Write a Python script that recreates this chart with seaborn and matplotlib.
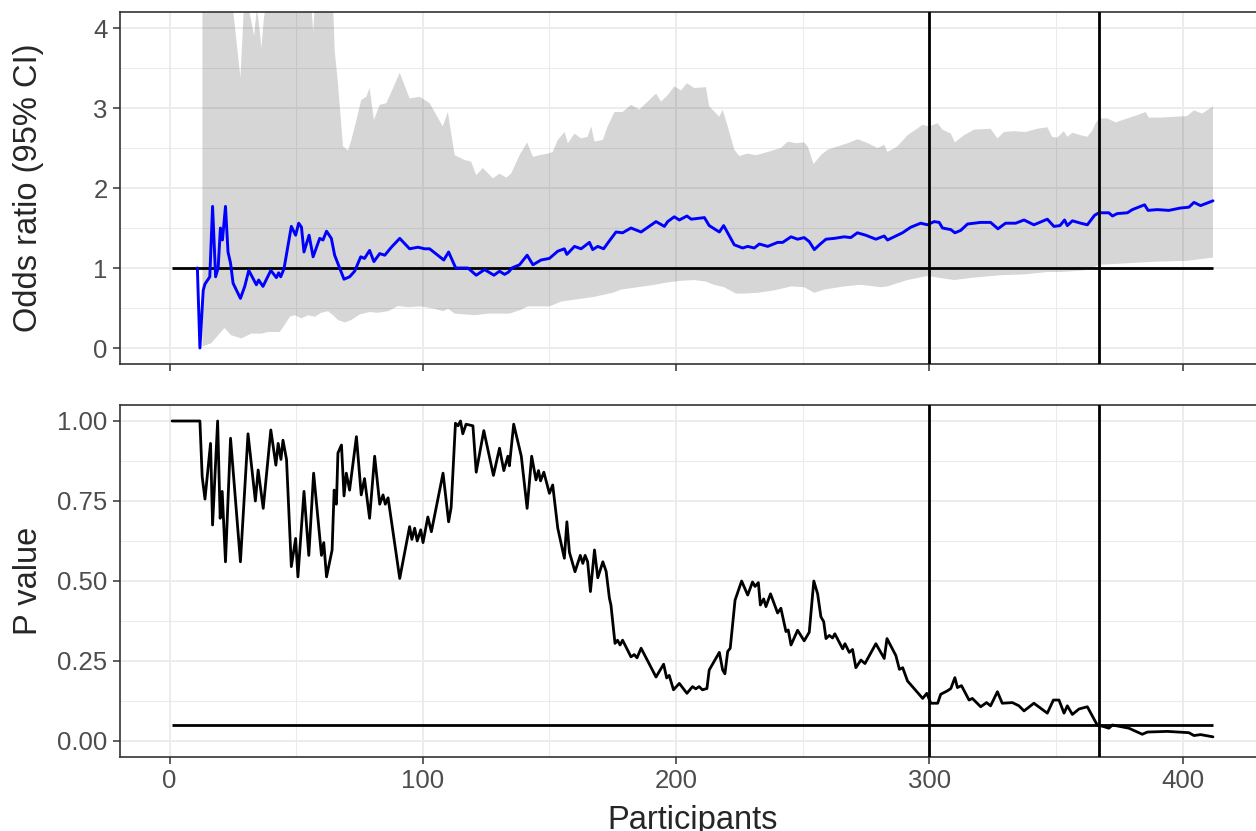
import numpy as np
import matplotlib
matplotlib.use("Agg")
import matplotlib.pyplot as plt
from matplotlib.ticker import MultipleLocator
import seaborn as sns

# odds ratio (blue line)
or_x = [11, 12, 13.3, 14, 15.9, 17, 18.2, 19.2, 20.1, 20.9, 22.1, 23.1, 24.1, 25.1, 28.0, 29.7,
        31.3, 34.3, 35.2, 36.9, 40.0, 42.2, 43.1, 43.9, 45.2, 48.1, 49.8, 51.0, 52.1, 53.1, 55.1,
        56.7, 59.3, 60.6, 62.0, 63.9, 65.2, 68.9, 71.1, 73.1, 75.5, 77.0, 79.0, 80.7, 83.0, 85.0,
        87.6, 90.9, 94.8, 98.1, 100.7, 102.7, 108.3, 110.2, 113.0, 117.8, 121.1, 124.4, 128.1,
        130.3, 132.3, 133.9, 135.2, 138.2, 141.2, 143.5, 146.7, 150.0, 153.3, 155.9, 156.9, 159.9,
        162.5, 165.8, 167.1, 169.1, 171.4, 173.7, 176.3, 178.9, 182.2, 186.2, 192.1, 195.4, 196.7,
        199.3, 201.3, 204.3, 206.0, 208.5, 211.2, 213.1, 217.1, 218.8, 223.0, 226.3, 228.3, 230.9,
        232.9, 236.2, 240.1, 242.1, 245.4, 248.0, 250.6, 252.6, 254.6, 256.6, 259.2, 262.4, 266.4,
        269.0, 271.6, 274.9, 278.9, 282.2, 283.5, 287.4, 289.4, 292.7, 296.6, 299.3, 301.9, 303.9,
        305.2, 308.5, 310.1, 312.4, 315.1, 320.3, 324.2, 327.1, 330.1, 334.1, 337.4, 341.3, 346.6,
        349.2, 351.6, 353.4, 354.5, 356.5, 359.8, 362.4, 365.3, 367.0, 370.9, 372.3, 374.2, 378.2,
        380.2, 385.0, 386.4, 390.0, 394.6, 399.2, 402.5, 404.5, 407.1, 412]
or_y = [1.0, 0.0, 0.72, 0.80, 0.89, 1.77, 0.89, 1.0, 1.50, 1.35, 1.77, 1.20, 1.06, 0.81, 0.62, 0.77,
        0.97, 0.79, 0.85, 0.77, 0.97, 0.88, 0.94, 0.89, 0.99, 1.52, 1.41, 1.56, 1.51, 1.20, 1.41,
        1.14, 1.37, 1.35, 1.46, 1.37, 1.16, 0.86, 0.89, 0.96, 1.14, 1.12, 1.22, 1.08, 1.18, 1.16,
        1.26, 1.37, 1.24, 1.26, 1.24, 1.24, 1.10, 1.20, 1.00, 1.00, 0.91, 0.98, 0.91,
        0.96, 0.92, 0.95, 1.00, 1.04, 1.16, 1.04, 1.10, 1.12, 1.21, 1.24, 1.17, 1.27,
        1.24, 1.32, 1.23, 1.27, 1.24, 1.34, 1.45, 1.44, 1.50, 1.45, 1.58, 1.52, 1.58,
        1.64, 1.60, 1.65, 1.61, 1.62, 1.63, 1.53, 1.45, 1.53, 1.29, 1.25, 1.27, 1.25,
        1.30, 1.27, 1.32, 1.32, 1.39, 1.36, 1.38, 1.33, 1.23, 1.29, 1.36, 1.37, 1.39,
        1.38, 1.44, 1.41, 1.36, 1.40, 1.35, 1.41, 1.44, 1.51, 1.56, 1.54, 1.58, 1.57,
        1.50, 1.48, 1.44, 1.47, 1.55, 1.57, 1.57, 1.49, 1.56, 1.56, 1.60, 1.54, 1.61,
        1.52, 1.53, 1.60, 1.53, 1.59, 1.56, 1.54, 1.66, 1.69, 1.69, 1.65, 1.68, 1.69,
        1.73, 1.79, 1.72, 1.73, 1.72, 1.75, 1.76, 1.82, 1.78, 1.84]

# upper 95% CI (goes off the top early on)
up_x = [13, 24.5, 28.0, 29.6, 30.9, 32.2, 33.4, 34.5, 35.5, 36.3, 37.2, 38.5, 40, 55, 56.0, 56.7,
        57.4, 58, 63, 64.6, 65.2, 66.5, 68.5, 70.5, 71.8, 73.8, 75.7, 77.7, 79.0, 80.7, 83.0, 85.6,
        87.6, 90.9, 94.8, 98.8, 102.7, 107.9, 109.9, 112.6, 116.5, 119.1, 121.1, 123.7, 127.7,
        130.3, 133.0, 134.9, 138.2, 141.2, 143.5, 146.1, 149.4, 151.3, 153.3, 156.0, 157.3, 159.9,
        162.5, 165.1, 166.5, 167.8, 171.1, 173.0, 175.7, 178.9, 182.2, 185.5, 188.8, 192.1, 194.1,
        196.7, 199.3, 202.0, 204.3, 207.2, 211.8, 213.1, 217.1, 218.4, 220.4, 223.0, 225.0, 228.3,
        231.6, 236.2, 241.4, 244.1, 247.4, 250.6, 252.0, 254.3, 257.2, 259.9, 263.8, 267.8, 271.7,
        275.7, 279.6, 282.2, 283.5, 287.4, 291.4, 294.7, 297.3, 300.0, 303.3, 305.2, 308.5, 310.1,
        313.7, 317.7, 324.2, 326.9, 329.5, 333.4, 338.0, 342.6, 346.6, 348.5, 350.5, 353.1, 354.5,
        356.5, 359.8, 362.4, 364.4, 365.7, 367.0, 370.3, 373.6, 378.2, 382.1, 385.4, 386.7, 391.3,
        396.6, 401.8, 404.5, 407.7, 412]
up_y = [6.0, 4.4, 3.38, 4.4, 4.3, 4.1, 3.9, 4.25, 4.0, 3.75, 4.1, 4.4, 6.0, 6.0, 4.3, 3.95,
        4.3, 6.0, 6.0, 4.3, 3.72, 3.31, 2.52, 2.47, 2.60, 2.85, 3.10, 3.14, 3.25, 2.85, 3.04, 3.06,
        3.20, 3.44, 3.12, 3.14, 3.06, 2.77, 2.95, 2.41, 2.35, 2.33, 2.16, 2.25, 2.12,
        2.18, 2.13, 2.18, 2.41, 2.57, 2.39, 2.41, 2.43, 2.45, 2.60, 2.70, 2.56, 2.68,
        2.62, 2.64, 2.77, 2.58, 2.60, 2.77, 2.95, 2.95, 3.04, 2.98, 3.08, 3.18, 3.08,
        3.16, 3.27, 3.22, 3.31, 3.25, 3.26, 3.02, 2.89, 2.98, 2.77, 2.48, 2.40, 2.43,
        2.41, 2.45, 2.50, 2.58, 2.56, 2.57, 2.52, 2.30, 2.41, 2.48, 2.52, 2.56, 2.61,
        2.56, 2.50, 2.54, 2.45, 2.52, 2.66, 2.73, 2.79, 2.77, 2.81, 2.73, 2.68, 2.57,
        2.66, 2.73, 2.74, 2.62, 2.70, 2.71, 2.70, 2.74, 2.76, 2.64, 2.63, 2.71, 2.64,
        2.69, 2.66, 2.64, 2.72, 2.81, 2.87, 2.87, 2.82, 2.87, 2.91, 2.95, 2.88, 2.88,
        2.89, 2.90, 2.97, 2.93, 3.02]

# lower 95% CI
lo_x = [13, 16.5, 18.4, 21.7, 24.3, 28.4, 32.3, 36.3, 38.9, 43.5, 45.5, 47.5, 49.4, 52.1, 54.7,
        57.3, 59.9, 62.6, 64.6, 66.5, 69.2, 71.8, 75.1, 79.0, 82.3, 86.3, 90.2, 94.2, 99.4, 104.7,
        108.0, 110.0, 112.6, 120.5, 125.8, 134.3, 138.9, 141.5, 150.0, 154.6, 161.2, 167.8, 175.0,
        178.3, 184.9, 191.5, 196.7, 202.0, 207.2, 211.8, 215.1, 219.0, 223.6, 226.9, 232.2, 238.7,
        245.4, 250.6, 254.6, 258.5, 266.4, 273.0, 280.9, 283.5, 291.4, 299.3, 303.3, 309.8, 317.7,
        328.2, 337.4, 346.6, 351.9, 361.1, 365.7, 367.0, 378.7, 390.0, 401.8, 412]
lo_y = [0.02, 0.06, 0.13, 0.25, 0.16, 0.12, 0.18, 0.18, 0.20, 0.20, 0.29, 0.39, 0.41, 0.37, 0.41,
        0.39, 0.44, 0.46, 0.41, 0.35, 0.32, 0.35, 0.42, 0.45, 0.44, 0.46, 0.525, 0.51, 0.52, 0.49,
        0.46, 0.49, 0.43, 0.41, 0.43, 0.43, 0.48, 0.52, 0.52, 0.58, 0.61, 0.64, 0.69,
        0.73, 0.76, 0.79, 0.82, 0.84, 0.85, 0.83, 0.79, 0.76, 0.68, 0.68, 0.69, 0.72,
        0.77, 0.76, 0.69, 0.73, 0.77, 0.79, 0.76, 0.77, 0.85, 0.90, 0.88, 0.85, 0.88,
        0.91, 0.92, 0.95, 0.95, 0.97, 1.02, 1.04, 1.06, 1.08, 1.09, 1.13]

# p value
p_x = [1, 12, 12.9, 14.0, 16.2, 17.0, 19.0, 20.0, 20.8, 22.1, 24.1, 28.0, 31.0, 33.9, 35.0, 37.0,
       40.0, 42.0, 42.9, 44.0, 44.8, 46.2, 48.1, 49.8, 50.7, 53.1, 55.0, 56.9, 60.0, 60.9, 62.0,
       64.2, 65.0, 65.9, 66.5, 67.9, 68.9, 69.8, 71.1, 73.8, 75.7, 77.0, 79.0, 81.0, 83.0, 84.3,
       85.2, 86.3, 90.9, 94.8, 95.7, 96.8, 97.8, 99.2, 100.1, 102.0, 103.4, 108.0, 110.2, 111.2,
       112.9, 113.9, 114.9, 115.8, 117.1, 119.8, 121.1, 124.1, 127.9, 130.3, 132.0, 133.6, 134.2,
       135.9, 138.9, 141.2, 143.0, 144.7, 145.7, 146.5, 147.8, 150.0, 151.3, 153.3, 155.9, 156.9,
       157.9, 160.1, 162.2, 163.2, 164.1, 165.1, 166.2, 167.8, 169.1, 171.1, 172.4, 173.7, 174.3,
       175.9, 176.9, 177.9, 178.9, 182.2, 183.5, 184.6, 186.2, 192.1, 195.1, 196.3, 197.3, 199.0,
       201.3, 204.3, 206.5, 207.8, 209.1, 210.4, 212.2, 213.1, 217.1, 218.4, 219.3, 220.4, 221.4,
       223.3, 225.9, 228.3, 230.2, 231.2, 232.5, 233.3, 234.6, 235.5, 237.3, 240.1, 241.4, 243.4,
       244.3, 245.4, 248.0, 250.6, 252.6, 254.4, 255.9, 257.2, 258.3, 259.2, 260.5, 261.8, 262.7,
       265.8, 266.7, 268.4, 269.7, 271.0, 273.0, 274.6, 278.9, 282.2, 283.3, 286.8, 288.2, 289.5,
       291.4, 297.4, 299.0, 300.6, 303.3, 304.5, 307.2, 308.5, 310.1, 311.1, 312.7, 315.7, 317.0,
       320.3, 322.6, 324.2, 326.9, 328.8, 332.8, 335.4, 337.4, 341.3, 346.6, 349.0, 351.2, 353.2,
       354.5, 356.5, 359.1, 362.4, 366.3, 368.9, 370.9, 372.3, 375.5, 378.8, 384.1, 386.1, 394.0,
       398.6, 402.5, 404.5, 407.1, 412]
p_y = [1.0, 1.0, 0.826, 0.756, 0.93, 0.675, 1.0, 0.696, 0.78, 0.56, 0.946, 0.56, 0.96, 0.75, 0.847,
       0.727, 0.972, 0.862, 0.93, 0.88, 0.94, 0.88, 0.545, 0.633, 0.513, 0.78, 0.58, 0.837, 0.58,
       0.62, 0.513, 0.597, 0.784, 0.74, 0.90, 0.925, 0.766, 0.837, 0.784, 0.951, 0.769, 0.82,
       0.696, 0.89, 0.74, 0.769, 0.74, 0.76, 0.508, 0.67, 0.63, 0.665, 0.625, 0.66, 0.62, 0.70,
       0.654, 0.837, 0.685, 0.73, 0.993, 0.985, 1.0, 0.96, 0.99, 0.985, 0.84, 0.97, 0.83, 0.915,
       0.845, 0.89, 0.86, 0.99, 0.89, 0.727, 0.89, 0.816, 0.845, 0.813, 0.84, 0.774, 0.80, 0.665,
       0.571, 0.685, 0.59, 0.529, 0.58, 0.555, 0.58, 0.56, 0.467, 0.597, 0.51, 0.56, 0.53, 0.446,
       0.425, 0.305, 0.315, 0.30, 0.315, 0.263, 0.27, 0.26, 0.29, 0.20, 0.24, 0.197, 0.205, 0.16,
       0.18, 0.149, 0.17, 0.163, 0.17, 0.16, 0.164, 0.222, 0.277, 0.222, 0.21, 0.28, 0.29, 0.44,
       0.50, 0.456, 0.497, 0.483, 0.495, 0.425, 0.444, 0.42, 0.46, 0.40, 0.415, 0.342, 0.347,
       0.30, 0.346, 0.313, 0.34, 0.50, 0.46, 0.388, 0.373, 0.32, 0.33, 0.322, 0.335, 0.288,
       0.304, 0.277, 0.286, 0.229, 0.253, 0.242, 0.304, 0.258, 0.32, 0.267, 0.224, 0.229, 0.1875,
       0.133, 0.149, 0.118, 0.118, 0.146, 0.157, 0.164, 0.198, 0.167, 0.173, 0.128, 0.133, 0.107,
       0.12, 0.11, 0.154, 0.118, 0.12, 0.11, 0.094, 0.118, 0.087, 0.128, 0.128, 0.087, 0.11,
       0.083, 0.10, 0.107, 0.05, 0.045, 0.04, 0.05, 0.045, 0.04, 0.021, 0.028, 0.03, 0.028,
       0.026, 0.017, 0.02, 0.013]

or_null = 1
alpha_level = 0.05
interim_looks = [300, 367]

sns.set_style("white")
plt.rcParams['font.family'] = ['Liberation Sans', 'DejaVu Sans']

W, H = 1256, 831
fig = plt.figure(figsize=(W / 100, H / 100), dpi=100)
left, right = 120 / W, 1265 / W
ax1 = fig.add_axes([left, 1 - 364 / H, right - left, 352 / H])
ax2 = fig.add_axes([left, 1 - 757 / H, right - left, 352 / H])

grid_major = dict(color='#EBEBEB', linewidth=1.3)
grid_minor = dict(color='#EBEBEB', linewidth=0.75)

for ax in (ax1, ax2):
    ax.set_xlim(-19.55, 432.55)
    ax.xaxis.set_major_locator(MultipleLocator(100))
    ax.xaxis.set_minor_locator(MultipleLocator(50))
    ax.grid(True, which='major', **grid_major)
    ax.grid(True, which='minor', **grid_minor)
    ax.set_axisbelow(True)
    for s in ax.spines.values():
        s.set_color('#333333')
        s.set_linewidth(1.2)
    ax.tick_params(which='major', direction='out', length=5, width=1.1, color='#333333',
                   labelsize=18.5, labelcolor='#4D4D4D', pad=4,
                   bottom=True, left=True)
    ax.tick_params(which='minor', length=0)

# top panel: odds ratio with CI ribbon
rib_x = np.r_[up_x, lo_x[::-1]]
rib_y = np.r_[up_y, lo_y[::-1]]
ax1.fill(rib_x, rib_y, color='#333333', alpha=0.2, lw=0, zorder=2)
ax1.hlines(or_null, p_x[0], p_x[-1], color='black', lw=2.0, zorder=3)
sns.lineplot(x=or_x, y=or_y, ax=ax1, color='#0000FF', lw=2.1, zorder=4)
for v in interim_looks:
    ax1.axvline(v, color='black', lw=2.0, zorder=5)
ax1.set_ylim(-0.2, 4.2)
ax1.yaxis.set_major_locator(MultipleLocator(1))
ax1.yaxis.set_minor_locator(MultipleLocator(0.5))
ax1.tick_params(labelbottom=False)
ax1.set_xlabel('')
ax1.set_ylabel('Odds ratio (95% CI)', fontsize=23.5)

# bottom panel: p value
ax2.hlines(alpha_level, p_x[0], p_x[-1], color='black', lw=2.0, zorder=3)
sns.lineplot(x=p_x, y=p_y, ax=ax2, color='black', lw=2.0, zorder=4)
for v in interim_looks:
    ax2.axvline(v, color='black', lw=2.0, zorder=5)
ax2.set_ylim(-0.05, 1.05)
ax2.yaxis.set_minor_locator(MultipleLocator(0.125))
ax2.set_yticks([0, 0.25, 0.5, 0.75, 1.0], ['0.00', '0.25', '0.50', '0.75', '1.00'])
ax2.set_ylabel('P value', fontsize=23.5)
ax2.set_xlabel('Participants', fontsize=23.5, labelpad=8)

# y titles aligned across the two panels
lab_x = (44 - 120) / 1145
ax1.yaxis.set_label_coords(lab_x, 0.5)
ax2.yaxis.set_label_coords(lab_x, 0.5)

fig.savefig('out.png', dpi=100)
